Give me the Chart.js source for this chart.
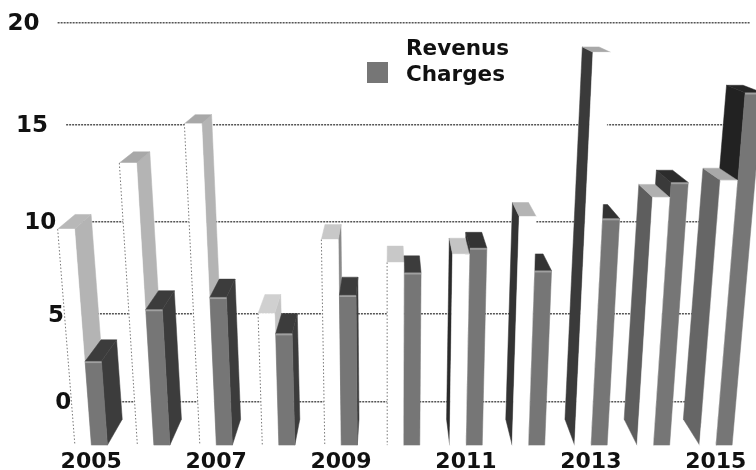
<!DOCTYPE html>
<html>
<head>
<meta charset="utf-8">
<title>Revenus / Charges</title>
<script src="https://cdn.jsdelivr.net/npm/chart.js@4"></script>
<style>
  html, body { margin: 0; padding: 0; background: #fff; }
  canvas { display: block; filter: blur(0.5px); }
</style>
</head>
<body>
<canvas id="chart" width="756" height="470"></canvas>
<script>
const years = ['2005', '2006', '2007', '2008', '2009', '2010', '2011', '2012', '2013', '2014', '2015'];
const revenus = [10.9, 14.0, 15.8, 6.8, 10.4, 9.3, 9.7, 11.5, 19.0, 12.4, 13.2];
const charges = [4.4, 7.0, 7.6, 5.8, 7.7, 8.8, 10.0, 8.9, 11.4, 13.1, 17.2];
const yTicks = [0, 5, 10, 15, 20];

// shading of the 3d faces, one per year
const revenusSide = ['#b4b4b4', '#b4b4b4', '#b4b4b4', '#c4c4c4', '#8a8a8a', '#c8c8c8', '#2a2a2a', '#333333', '#3a3a3a', '#5e5e5e', '#666666'];
const revenusTop = ['#b8b8b8', '#a8a8a8', '#a8a8a8', '#d0d0d0', '#c8c8c8', '#c8c8c8', '#c4c4c4', '#b4b4b4', '#a8a8a8', '#b0b0b0', '#a8a8a8'];
const chargesSide = ['#3c3c3c', '#3c3c3c', '#3c3c3c', '#3c3c3c', '#3c3c3c', '#444444', '#333333', '#333333', '#333333', '#3a3a3a', '#222222'];
const chargesTop = ['#3c3c3c', '#3c3c3c', '#3c3c3c', '#3c3c3c', '#3c3c3c', '#3c3c3c', '#333333', '#333333', '#333333', '#2c2c2c', '#262626'];
const chargesFront = '#767676';

// camera: where the depth lines and the uprights converge
const vanishX = 390;
const depthVanishY = -50;
const uprightVanishY = 4400;
const floorY = 446;
const wallDepth = 0.0887;
const barDepth = 0.0524;

// bar tops are read on the back wall, this brings a wall y to the front plane
function frontY(wallY) {
  return (wallY - wallDepth * depthVanishY) / (1 - wallDepth);
}
function frontX(u, y) {
  return vanishX + (u - vanishX) * (uprightVanishY - y) / (uprightVanishY - floorY);
}
function project(u, y, depth) {
  const x = frontX(u, y);
  return [x + depth * (vanishX - x), y + depth * (depthVanishY - y)];
}
function wallX(u, wallY) {
  return project(u, frontY(wallY), wallDepth)[0];
}

// y axis of the back wall: steps get wider towards the top
class PerspectiveScale extends Chart.LinearScale {
  static id = 'perspective';
  static defaults = Chart.LinearScale.defaults;

  getPixelForDecimal(p) {
    return this.bottom - (this.bottom - this.top) * (0.9025 * p + 0.0975 * p * p);
  }
  _computeGridLineItems(chartArea) {
    const items = super._computeGridLineItems(chartArea);
    items.forEach(item => {
      item.x1 = wallX(chartArea.left, item.y1);
      item.x2 = wallX(chartArea.right, item.y2);
    });
    return items;
  }
  _computeLabelItems(chartArea) {
    const items = super._computeLabelItems(chartArea);
    items.forEach(item => {
      const pos = item.options.translation;
      pos[0] = wallX(this.right, pos[1]) - 18;
      pos[1] += 1.5;
    });
    return items;
  }
  // labels follow the slanted wall, so they leave the axis box
  _computeLabelArea() {
    return undefined;
  }
}
Chart.register(PerspectiveScale);

function fillQuad(ctx, points, color) {
  ctx.beginPath();
  points.forEach((p, i) => i ? ctx.lineTo(p[0], p[1]) : ctx.moveTo(p[0], p[1]));
  ctx.closePath();
  ctx.fillStyle = color;
  ctx.strokeStyle = color;
  ctx.lineWidth = 0.5;
  ctx.fill();
  ctx.stroke();
}

function drawBar(ctx, el, index, isCharges) {
  const left = el.x - el.width / 2;
  const right = el.x + el.width / 2;
  const top = frontY(el.y);
  const bottom = frontY(el.base);
  const side = (isCharges ? chargesSide : revenusSide)[index];
  const cap = (isCharges ? chargesTop : revenusTop)[index];

  if (right < vanishX) {
    fillQuad(ctx, [project(right, top, 0), project(right, bottom, 0), project(right, bottom, barDepth), project(right, top, barDepth)], side);
  }
  if (left > vanishX) {
    fillQuad(ctx, [project(left, top, 0), project(left, bottom, 0), project(left, bottom, barDepth), project(left, top, barDepth)], side);
  }
  fillQuad(ctx, [project(left, top, 0), project(right, top, 0), project(right, top, barDepth), project(left, top, barDepth)], cap);

  const a = project(left, top, 0);
  const b = project(right, top, 0);
  const c = project(right, bottom, 0);
  const d = project(left, bottom, 0);
  fillQuad(ctx, [a, b, c, d], isCharges ? chargesFront : '#ffffff');

  ctx.save();
  if (isCharges) {
    // pale line along the top of the front face
    ctx.strokeStyle = '#a0a0a0';
    ctx.lineWidth = 1.5;
    ctx.beginPath();
    ctx.moveTo(a[0], a[1] + 1);
    ctx.lineTo(b[0], b[1] + 1);
    ctx.stroke();
  } else if (left < vanishX) {
    // dotted outline of the white front, only where no side face borders it
    ctx.strokeStyle = '#777777';
    ctx.lineWidth = 1;
    ctx.setLineDash([1.5, 2]);
    ctx.beginPath();
    ctx.moveTo(a[0], a[1]);
    ctx.lineTo(d[0], d[1]);
    ctx.stroke();
  }
  ctx.restore();
}

const bars3d = {
  id: 'bars3d',
  afterDatasetsDraw(chart) {
    const ctx = chart.ctx;
    const list = [];
    chart.data.datasets.forEach((ds, d) => {
      chart.getDatasetMeta(d).data.forEach((el, i) => list.push({ el, i, d }));
    });
    // outer bars first so the ones nearer the centre cover their sides
    list.sort((p, q) => Math.abs(q.el.x - vanishX) - Math.abs(p.el.x - vanishX));
    list.forEach(b => drawBar(ctx, b.el, b.i, b.d === 1));
  }
};

const legendBox = {
  id: 'legendBox',
  afterDraw(chart) {
    const ctx = chart.ctx;
    ctx.save();
    ctx.fillStyle = chargesFront;
    ctx.fillRect(367, 62, 21, 21);
    ctx.fillStyle = '#111111';
    ctx.font = 'bold 21.5px "DejaVu Sans"';
    ctx.textAlign = 'left';
    ctx.textBaseline = 'alphabetic';
    chart.data.datasets.forEach((ds, i) => ctx.fillText(ds.label, 406, 54.5 + i * 26.5));
    ctx.restore();
  }
};

new Chart(document.getElementById('chart'), {
  type: 'bar',
  data: {
    labels: years,
    datasets: [
      { label: 'Revenus', data: revenus, backgroundColor: 'transparent', categoryPercentage: 0.529, barPercentage: 0.97 },
      { label: 'Charges', data: charges, backgroundColor: 'transparent', categoryPercentage: 0.529, barPercentage: 0.97 }
    ]
  },
  options: {
    responsive: false,
    animation: false,
    events: [],
    layout: { autoPadding: false, padding: { left: 0, top: 22.5, right: 9, bottom: 0 } },
    plugins: { legend: { display: false }, tooltip: { enabled: false } },
    scales: {
      x: {
        afterFit: scale => {
          scale.height = 68;
          // the big tick padding must not eat the width of the axis
          scale.paddingLeft = 0;
          scale.paddingRight = 0;
        },
        grid: { display: false },
        border: { display: false },
        ticks: {
          autoSkip: false,
          maxRotation: 0,
          padding: 39,
          color: '#111111',
          font: { family: 'DejaVu Sans', size: 22, weight: 'bold' },
          callback: (value, i) => i % 2 ? '' : years[i]
        }
      },
      y: {
        type: 'perspective',
        min: yTicks[0],
        max: yTicks[yTicks.length - 1],
        afterFit: scale => { scale.width = 60; },
        afterBuildTicks: scale => { scale.ticks = yTicks.map(value => ({ value })); },
        grid: { color: '#555555', lineWidth: 1.6, drawTicks: false },
        border: { display: false, dash: [2, 1] },
        ticks: {
          z: 1,
          color: '#111111',
          font: { family: 'DejaVu Sans', size: 23, weight: 'bold' }
        }
      }
    }
  },
  plugins: [bars3d, legendBox]
});
</script>
</body>
</html>
